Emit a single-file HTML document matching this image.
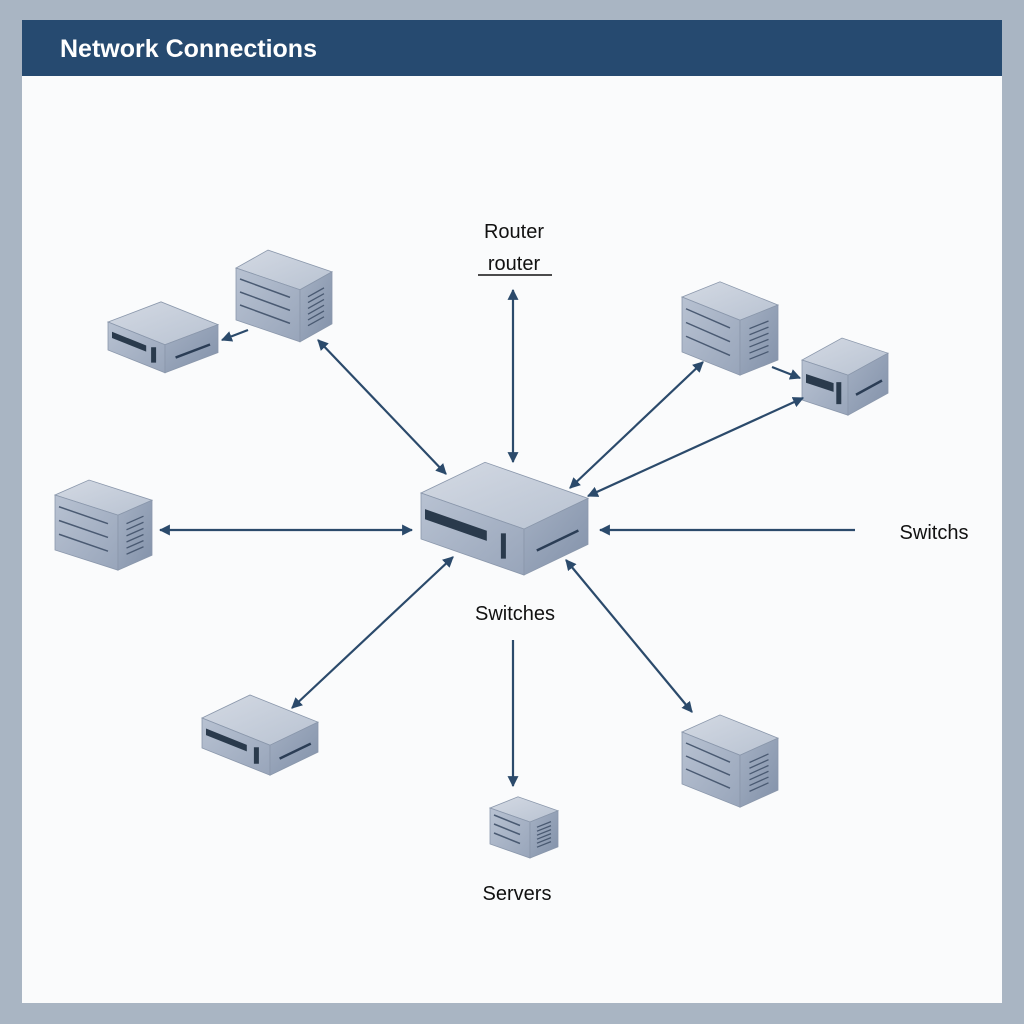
<!DOCTYPE html>
<html><head><meta charset="utf-8"><style>
html,body{margin:0;padding:0;background:#a9b5c3;}
svg{display:block}
text{font-family:"Liberation Sans",sans-serif;}
</style></head><body>
<svg id="s" width="1024" height="1024" viewBox="0 0 1024 1024" xmlns="http://www.w3.org/2000/svg">
<defs>
<marker id="ah" viewBox="0 0 10 10" refX="9" refY="5" markerWidth="11" markerHeight="11" markerUnits="userSpaceOnUse" orient="auto-start-reverse"><path d="M0,0 L10,5 L0,10 z" fill="#2b4a6b"/></marker>
<linearGradient id="gt" x1="0" y1="0" x2="1" y2="1"><stop offset="0" stop-color="#d3d9e3"/><stop offset="1" stop-color="#b9c3d2"/></linearGradient>
<linearGradient id="gf" x1="0" y1="0" x2="1" y2="1"><stop offset="0" stop-color="#b8c2d2"/><stop offset="1" stop-color="#98a5ba"/></linearGradient>
<linearGradient id="gr" x1="0" y1="0" x2="1" y2="1"><stop offset="0" stop-color="#a4b0c3"/><stop offset="1" stop-color="#8291a9"/></linearGradient>
</defs>
<rect x="0" y="0" width="1024" height="1024" fill="#a9b5c3"/>
<rect x="22" y="20" width="980" height="983" fill="#fafbfc"/>
<rect x="22" y="20" width="980" height="56" fill="#264a70"/>
<text x="60" y="57" font-size="25" font-weight="bold" fill="#ffffff">Network Connections</text>
<g id="boxes"></g>
<g stroke="#2b4a6b" stroke-width="2.2" fill="none">
<line x1="248" y1="330" x2="222" y2="340" marker-end="url(#ah)"/>
<line x1="318" y1="340" x2="446" y2="474" marker-start="url(#ah)" marker-end="url(#ah)"/>
<line x1="513" y1="290" x2="513" y2="462" marker-start="url(#ah)" marker-end="url(#ah)"/>
<line x1="703" y1="362" x2="570" y2="488" marker-start="url(#ah)" marker-end="url(#ah)"/>
<line x1="772" y1="367" x2="800" y2="378" marker-end="url(#ah)"/>
<line x1="803" y1="398" x2="588" y2="496" marker-start="url(#ah)" marker-end="url(#ah)"/>
<line x1="160" y1="530" x2="412" y2="530" marker-start="url(#ah)" marker-end="url(#ah)"/>
<line x1="855" y1="530" x2="600" y2="530" marker-end="url(#ah)"/>
<line x1="453" y1="557" x2="292" y2="708" marker-start="url(#ah)" marker-end="url(#ah)"/>
<line x1="566" y1="560" x2="692" y2="712" marker-start="url(#ah)" marker-end="url(#ah)"/>
<line x1="513" y1="640" x2="513" y2="786" marker-end="url(#ah)"/>
</g>
<g font-size="20" fill="#111" text-anchor="middle">
<text x="514" y="238">Router</text>
<text x="514" y="270">router</text>
<text x="515" y="620">Switches</text>
<text x="934" y="539">Switchs</text>
<text x="517" y="900">Servers</text>
</g>
<line x1="478" y1="275" x2="552" y2="275" stroke="#111" stroke-width="1.6"/>
</svg>
<script>
var g=document.getElementById('boxes'),NS='http://www.w3.org/2000/svg';
function P(pts,fill){var p=document.createElementNS(NS,'polygon');p.setAttribute('points',pts.map(function(a){return a.join(',')}).join(' '));p.setAttribute('fill',fill);p.setAttribute('stroke','#8a97ab');p.setAttribute('stroke-width','0.8');g.appendChild(p);}
function L(a,b,c,w){var l=document.createElementNS(NS,'line');l.setAttribute('x1',a[0]);l.setAttribute('y1',a[1]);l.setAttribute('x2',b[0]);l.setAttribute('y2',b[1]);l.setAttribute('stroke',c);l.setAttribute('stroke-width',w);g.appendChild(l);}
function box(x,y,w,s,d,s2,h,tower){
 var A=[x,y],B=[x+w,y+w*s],C=[x+w+d,y+w*s-d*s2],D=[x+d,y-d*s2];
 P([A,B,C,D],'url(#gt)');
 P([A,B,[B[0],B[1]+h],[x,y+h]],'url(#gf)');
 P([B,C,[C[0],C[1]+h],[B[0],B[1]+h]],'url(#gr)');
 if(tower){
  for(var i=1;i<=3;i++){var yy=h*i/4;L([x+4,y+yy-2],[x+w-10,y+(w-10)*s+yy-2],'#4a5a72',1.5);}
  for(var j=1;j<=6;j++){var yy2=h*(j+1)/9;L([B[0]+d*0.25,B[1]-d*0.25*s2+yy2],[B[0]+d*0.75,B[1]-d*0.75*s2+yy2],'#4a5a72',1.3);}
 } else {
  var r=document.createElementNS(NS,'polygon');var ph=h*0.22,pw=w*0.6;
  r.setAttribute('points',[[x+4,y+h*0.35],[x+4+pw,y+h*0.35+pw*s],[x+4+pw,y+h*0.35+pw*s+ph],[x+4,y+h*0.35+ph]].map(function(a){return a.join(',')}).join(' '));
  r.setAttribute('fill','#2a3a4c');g.appendChild(r);
  L([B[0]+d*0.2,B[1]-d*0.2*s2+h*0.6],[B[0]+d*0.85,B[1]-d*0.85*s2+h*0.6],'#2b3d55',2.5);
  L([x+w*0.8,y+w*0.8*s+h*0.25],[x+w*0.8,y+w*0.8*s+h*0.8],'#2a3a4c',5);
 }
}
box(236,268,64,0.34,32,0.56,52,true);
box(108,322,57,0.4,53,0.38,28,false);
box(55,495,63,0.32,34,0.44,55,true);
box(421,493,103,0.35,64,0.48,46,false);
box(682,297,58,0.4,38,0.4,55,true);
box(802,360,46,0.33,40,0.55,40,false);
box(202,718,68,0.4,48,0.48,30,false);
box(682,732,58,0.4,38,0.45,52,true);
box(490,808,40,0.35,28,0.4,36,true);
</script>
</body></html>
